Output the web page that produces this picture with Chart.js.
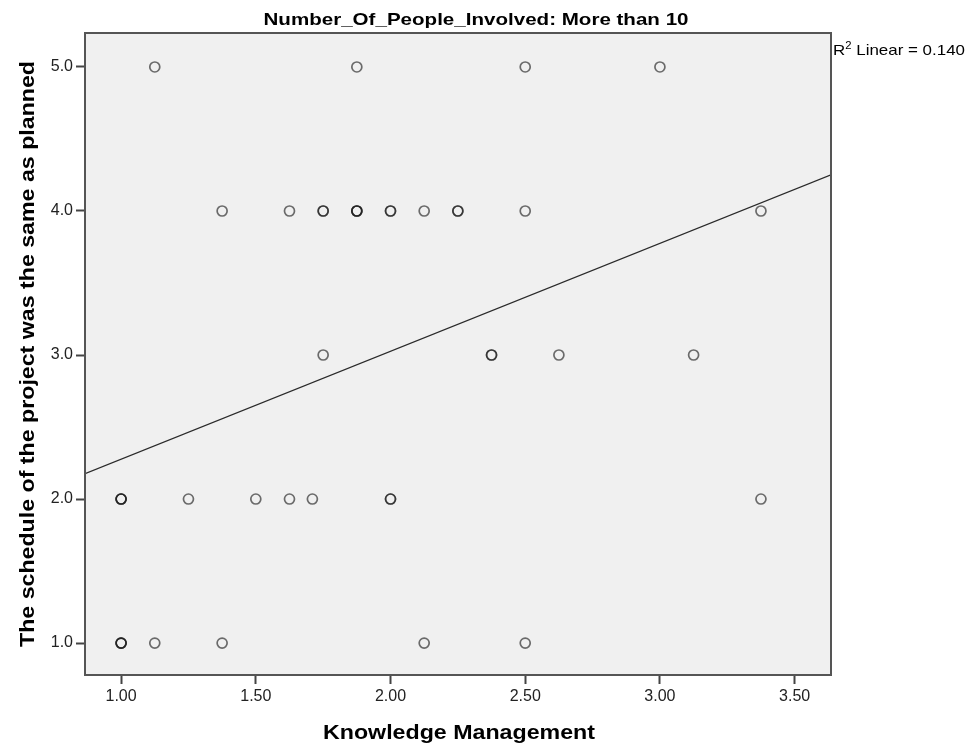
<!DOCTYPE html>
<html>
<head>
<meta charset="utf-8">
<script src="https://cdn.jsdelivr.net/npm/chart.js@4/dist/chart.umd.min.js"></script>
<style>
  html, body { margin: 0; padding: 0; background: #ffffff; }
  canvas { display: block; }
</style>
</head>
<body>
<canvas id="chart" width="968" height="749"></canvas>
<script>
// Knowledge Management score (x) and schedule rating (y), one entry per respondent
const knowledgeMgmt = [
  1.125, 1.875, 2.5, 3.0,
  1.375, 1.625, 1.75, 1.75, 1.875, 1.875, 1.875, 2.0, 2.0, 2.125, 2.25, 2.25, 2.5, 3.375,
  1.75, 2.375, 2.375, 2.625, 3.125,
  1.0, 1.0, 1.0, 1.25, 1.5, 1.625, 1.71, 2.0, 2.0, 3.375,
  1.0, 1.0, 1.0, 1.125, 1.375, 2.125, 2.5
];
const scheduleRating = [
  5, 5, 5, 5,
  4, 4, 4, 4, 4, 4, 4, 4, 4, 4, 4, 4, 4, 4,
  3, 3, 3, 3, 3,
  2, 2, 2, 2, 2, 2, 2, 2, 2, 2,
  1, 1, 1, 1, 1, 1, 1
];
const xTickValues = [1.0, 1.5, 2.0, 2.5, 3.0, 3.5];
const yTickValues = [1, 2, 3, 4, 5];
const xRange = [0.866, 3.635];
const yRange = [0.778, 5.236];

const chartTitle = 'Number_Of_People_Involved: More than 10';
const xTitle = 'Knowledge Management';
const yTitle = 'The schedule of the project was the same as planned';

// Ordinary least squares fit of rating on score
const n = knowledgeMgmt.length;
const mx = knowledgeMgmt.reduce((s, v) => s + v, 0) / n;
const my = scheduleRating.reduce((s, v) => s + v, 0) / n;
let sxy = 0, sxx = 0, syy = 0;
for (let i = 0; i < n; i++) {
  const dx = knowledgeMgmt[i] - mx, dy = scheduleRating[i] - my;
  sxy += dx * dy; sxx += dx * dx; syy += dy * dy;
}
const slope = sxy / sxx;
const intercept = my - slope * mx;
const rSquared = (sxy * sxy) / (sxx * syy);

const points = knowledgeMgmt.map((x, i) => ({ x: x, y: scheduleRating[i] }));
const fitLine = xRange.map(x => ({ x: x, y: intercept + slope * x }));

const SANS = '"Liberation Sans", Arial, Helvetica, sans-serif';

// Draw text stretched horizontally to a given width, centred on (cx, y)
function drawStretched(ctx, text, cx, y, font, width) {
  ctx.font = font;
  const w = ctx.measureText(text).width;
  ctx.save();
  ctx.translate(cx, y);
  ctx.scale(width / w, 1);
  ctx.textAlign = 'center';
  ctx.fillText(text, 0, 0);
  ctx.restore();
}

const frame = {
  id: 'frame',
  beforeDatasetsDraw(chart) {
    const { ctx, chartArea: a } = chart;
    ctx.save();
    ctx.fillStyle = '#f0f0f0';
    ctx.fillRect(a.left, a.top, a.right - a.left, a.bottom - a.top);
    ctx.restore();
  },
  afterDraw(chart) {
    const { ctx, chartArea: a } = chart;
    ctx.save();
    ctx.strokeStyle = '#555555';
    ctx.lineWidth = 2;
    ctx.strokeRect(a.left, a.top, a.right - a.left, a.bottom - a.top);

    ctx.fillStyle = '#000000';
    ctx.textBaseline = 'alphabetic';
    drawStretched(ctx, chartTitle, 476, 25, 'bold 17px ' + SANS, 425);
    drawStretched(ctx, xTitle, 459, 739, 'bold 20px ' + SANS, 272);

    ctx.save();
    ctx.translate(34, (a.top + a.bottom) / 2);
    ctx.rotate(-Math.PI / 2);
    drawStretched(ctx, yTitle, 0, 0, 'bold 20px ' + SANS, 586);
    ctx.restore();

    // R-squared annotation beside the plot frame
    const label = ' Linear = ' + rSquared.toFixed(3);
    const big = '15px ' + SANS, small = '10px ' + SANS;
    ctx.font = big; const wR = ctx.measureText('R').width; const wL = ctx.measureText(label).width;
    ctx.font = small; const w2 = ctx.measureText('2').width;
    const k = 132 / (wR + w2 + wL);
    ctx.save();
    ctx.translate(833, 55);
    ctx.scale(k, 1);
    ctx.textAlign = 'left';
    ctx.font = big; ctx.fillText('R', 0, 0);
    ctx.font = small; ctx.fillText('2', wR, -6);
    ctx.font = big; ctx.fillText(label, wR + w2, 0);
    ctx.restore();
    ctx.restore();
  }
};

new Chart(document.getElementById('chart'), {
  type: 'scatter',
  data: {
    datasets: [
      {
        label: 'Observed',
        data: points,
        pointRadius: 5,
        pointHoverRadius: 5,
        pointBorderWidth: 1.7,
        pointBackgroundColor: 'rgba(0,0,0,0)',
        pointBorderColor: 'rgba(25,25,25,0.62)',
        showLine: false
      },
      {
        label: 'Fit',
        data: fitLine,
        showLine: true,
        pointRadius: 0,
        borderColor: '#2a2a2a',
        borderWidth: 1.3,
        fill: false
      }
    ]
  },
  options: {
    responsive: false,
    animation: false,
    events: [],
    layout: { padding: { left: 0, top: 33, right: 137, bottom: 0 } },
    plugins: { legend: { display: false }, tooltip: { enabled: false }, title: { display: false } },
    scales: {
      x: {
        type: 'linear',
        min: xRange[0],
        max: xRange[1],
        afterBuildTicks: s => { s.ticks = xTickValues.map(v => ({ value: v })); },
        afterFit: s => { s.height = 749 - 675; },
        border: { display: false },
        grid: { drawOnChartArea: false, drawTicks: true, tickLength: 9, tickColor: '#444444', tickWidth: 2 },
        ticks: {
          color: '#222222',
          padding: 3,
          maxRotation: 0,
          font: { family: SANS, size: 16 },
          callback: v => Number(v).toFixed(2)
        }
      },
      y: {
        type: 'linear',
        min: yRange[0],
        max: yRange[1],
        afterBuildTicks: s => { s.ticks = yTickValues.map(v => ({ value: v })); },
        afterFit: s => { s.width = 85; },
        border: { display: false },
        grid: { drawOnChartArea: false, drawTicks: true, tickLength: 9, tickColor: '#444444', tickWidth: 2 },
        ticks: {
          color: '#222222',
          padding: 3,
          font: { family: SANS, size: 16 },
          callback: v => Number(v).toFixed(1)
        }
      }
    }
  },
  plugins: [frame]
});
</script>
</body>
</html>
